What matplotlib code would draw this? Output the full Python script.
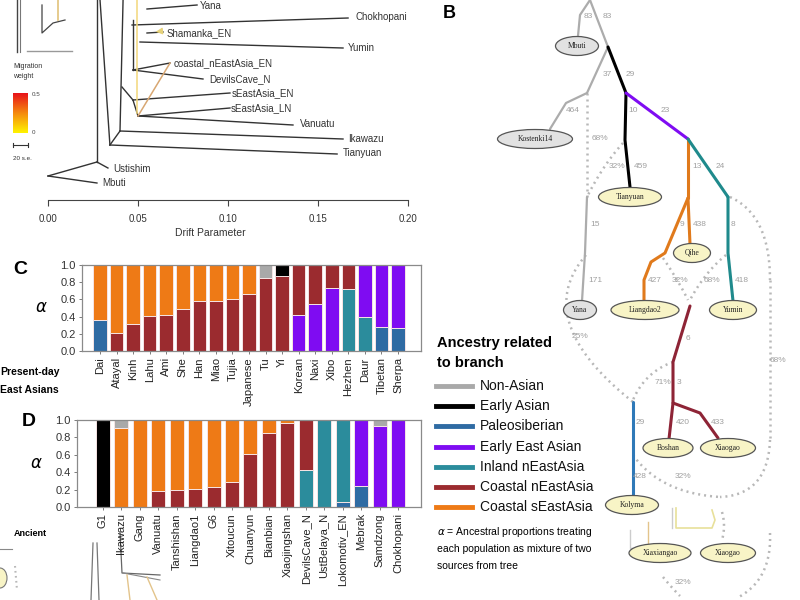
import numpy as np
import matplotlib.pyplot as plt
from matplotlib.patches import Ellipse
from matplotlib.colors import LinearSegmentedColormap

plt.rcParams['font.family'] = ['Liberation Sans', 'DejaVu Sans']

# ---------------- data ----------------
# ancestry components, stacked bottom -> top
components = ["Paleosiberian", "Inland nEastAsia", "Early East Asian",
              "Coastal nEastAsia", "Coastal sEastAsia", "Non-Asian", "Early Asian"]
comp_colors = ["#2f6ba3", "#2b8c9c", "#7f0cf2", "#9b2b2f", "#ee7a16", "#a9a9a9", "#000000"]

legend_names = ["Non-Asian", "Early Asian", "Paleosiberian", "Early East Asian",
                "Inland nEastAsia", "Coastal nEastAsia", "Coastal sEastAsia"]
legend_colors = ["#a9a9a9", "#000000", "#2f6ba3", "#7f0cf2", "#2b8c9c", "#9b2b2f", "#ee7a16"]

# panel C: present-day East Asians
c_pops = ["Dai", "Atayal", "Kinh", "Lahu", "Ami", "She", "Han", "Miao", "Tujia", "Japanese",
          "Tu", "Yi", "Korean", "Naxi", "Xibo", "Hezhen", "Daur", "Tibetan", "Sherpa"]
c_paleo = [0.36, 0, 0, 0, 0, 0, 0, 0, 0, 0, 0, 0, 0, 0, 0, 0, 0, 0.28, 0.27]
c_inland = [0, 0, 0, 0, 0, 0, 0, 0, 0, 0, 0, 0, 0, 0, 0, 0.72, 0.40, 0, 0]
c_eea = [0, 0, 0, 0, 0, 0, 0, 0, 0, 0, 0, 0, 0.42, 0.55, 0.73, 0, 0.60, 0.72, 0.73]
c_cnea = [0, 0.21, 0.31, 0.41, 0.42, 0.49, 0.58, 0.58, 0.61, 0.66, 0.85, 0.87,
          0.58, 0.45, 0.27, 0.28, 0, 0, 0]
c_csea = [0.64, 0.79, 0.69, 0.59, 0.58, 0.51, 0.42, 0.42, 0.39, 0.34, 0, 0,
          0, 0, 0, 0, 0, 0, 0]
c_nonasian = [0, 0, 0, 0, 0, 0, 0, 0, 0, 0, 0.15, 0, 0, 0, 0, 0, 0, 0, 0]
c_early = [0, 0, 0, 0, 0, 0, 0, 0, 0, 0, 0, 0.13, 0, 0, 0, 0, 0, 0, 0]

# panel D: ancient samples
d_pops = ["G1", "Ikawazu", "Gang", "Vanuatu", "Tanshishan", "Liangdao1", "G6", "Xitoucun",
          "Chuanyun", "Bianbian", "Xiaojingshan", "DevilsCave_N", "UstBelaya_N",
          "Lokomotiv_EN", "Mebrak", "Samdzong", "Chokhopani"]
d_paleo = [0, 0, 0, 0, 0, 0, 0, 0, 0, 0, 0, 0, 0, 0.06, 0.24, 0, 0]
d_inland = [0, 0, 0, 0, 0, 0, 0, 0, 0, 0, 0, 0.42, 1.0, 0.94, 0, 0, 0]
d_eea = [0, 0, 0, 0, 0, 0, 0, 0, 0, 0, 0, 0, 0, 0, 0.76, 0.93, 1.0]
d_cnea = [0, 0, 0, 0.18, 0.20, 0.21, 0.23, 0.29, 0.61, 0.85, 0.97, 0.58, 0, 0, 0, 0, 0]
d_csea = [0, 0.91, 1.0, 0.82, 0.80, 0.79, 0.77, 0.71, 0.39, 0.15, 0.03, 0, 0, 0, 0, 0, 0]
d_nonasian = [0, 0.09, 0, 0, 0, 0, 0, 0, 0, 0, 0, 0, 0, 0, 0, 0.07, 0]
d_early = [1.0, 0, 0, 0, 0, 0, 0, 0, 0, 0, 0, 0, 0, 0, 0, 0, 0]

# panel A: treemix tree, x = drift, y = row (pixels from top)
tree_x0 = [0, 0, 0.0272, 0.0272, 0.0289, 0.0344, 0.0344, 0.040, 0.040, 0.0411, 0.0472, 0.0472,
           0.050, 0.050, 0.0472, 0.0472, 0.0472, 0.0467, 0.0511, 0.055, 0.055]
tree_y0 = [176, 176, 162, 162, 0, 145, 145, 131, 131, 87, 100, 100,
           116, 116, 20, 70, 70, 25, 42, 33, 9]
tree_x1 = [0.0272, 0.0272, 0.0333, 0.0272, 0.0344, 0.1606, 0.040, 0.1639, 0.0417, 0.0472, 0.1011, 0.050,
           0.1011, 0.1361, 0.0472, 0.0678, 0.0861, 0.1667, 0.1639, 0.0639, 0.0828]
tree_y1 = [183, 162, 168, 0, 145, 154, 131, 139, 0, 100, 93, 116,
           108, 125, 70, 63, 79, 18, 48, 32, 5]
leaf_names = ["Yana", "Chokhopani", "Shamanka_EN", "Yumin", "coastal_nEastAsia_EN",
              "DevilsCave_N", "sEastAsia_EN", "sEastAsia_LN", "Vanuatu", "Ikawazu",
              "Tianyuan", "Ustishim", "Mbuti"]
leaf_x = [0.0844, 0.1706, 0.0656, 0.1667, 0.0700, 0.0894, 0.1022, 0.1017, 0.1400, 0.1667,
          0.1639, 0.0361, 0.0300]
leaf_y = [6, 17, 33, 48, 63, 79, 93, 108, 124, 139, 153, 169, 183]
mig_x0 = [0.050, 0.0494]
mig_y0 = [116, 0]
mig_x1 = [0.0678, 0.0494]
mig_y1 = [63, 113]
mig_colors = ["#d8a772", "#f2d77a"]
drift_ticks = [0.0, 0.05, 0.10, 0.15, 0.20]

# panel B: admixture graph (figure pixel coordinates)
gray, purple, orange, teal, brown, pblue = "#acacac", "#7f0cf2", "#e07a1c", "#1f8a8c", "#8e2436", "#2f79b8"
b_branches = [
    (gray, [(590, 0), (580, 15), (578, 36)]),
    (gray, [(590, 0), (608, 47)]),
    (gray, [(608, 47), (587, 93)]),
    ("black", [(608, 47), (626, 93)]),
    (gray, [(587, 93), (566, 103), (550, 129)]),
    (gray, [(587, 197), (585, 253), (582, 301)]),
    ("black", [(626, 93), (625, 140), (630, 187)]),
    (purple, [(626, 93), (688, 139)]),
    (orange, [(688, 139), (688, 198)]),
    (orange, [(688, 198), (690, 244)]),
    (orange, [(688, 198), (665, 253), (651, 262), (644, 280), (644, 301)]),
    (teal, [(688, 139), (728, 197)]),
    (teal, [(728, 197), (728, 253), (733, 301)]),
    (brown, [(690, 306), (673, 362), (673, 403), (669, 439)]),
    (brown, [(673, 403), (700, 413), (718, 438)]),
    (pblue, [(633, 402), (633, 496)]),
]
b_dotted = [
    ((587, 93), (587, 145), (587, 197)),
    ((623, 143), (603, 165), (587, 197)),
    ((586, 255), (530, 320), (633, 402)),
    ((730, 197), (770, 215), (770, 280)),
    ((770, 280), (770, 360), (770, 440)),
    ((770, 440), (768, 495), (720, 497)),
    ((633, 455), (660, 493), (720, 497)),
    ((726, 255), (705, 272), (690, 300)),
    ((663, 258), (678, 280), (688, 300)),
    ((673, 362), (645, 372), (633, 400)),
    ((722, 512), (726, 526), (722, 540)),
    ((770, 533), (772, 580), (737, 598)),
    ((663, 577), (672, 588), (680, 596)),
]
b_nodes = ["Mbuti", "Kostenki14", "Tianyuan", "Qihe", "Yana", "Liangdao2", "Yumin",
           "Boshan", "Xiaogao", "Kolyma", "Xiaxiangao", "Xiaogao"]
b_node_x = [577, 535, 630, 692, 580, 645, 733, 668, 728, 632, 660, 728]
b_node_y = [46, 139, 197, 253, 310, 310, 310, 448, 448, 505, 553, 553]
b_node_w = [43, 75, 63, 37, 33, 68, 47, 50, 55, 53, 62, 55]
b_node_fill = ["#e2e2e2", "#e2e2e2", "#f8f4c6", "#f8f4c6", "#e2e2e2", "#f8f4c6", "#f8f4c6",
               "#f8f4c6", "#f8f4c6", "#f8f4c6", "#f8f4c6", "#f8f4c6"]
b_labels = ["83", "83", "37", "29", "464", "68%", "10", "23", "32%", "459", "13", "24",
            "15", "9", "438", "8", "171", "427", "32%", "68%", "418", "25%", "6", "68%",
            "71%", "3", "29", "420", "433", "428", "32%", "32%"]
b_label_x = [588, 607, 607, 630, 573, 600, 633, 665, 617, 641, 697, 720,
             595, 682, 700, 733, 595, 655, 680, 712, 742, 580, 688, 778,
             663, 679, 640, 683, 718, 640, 683, 683]
b_label_y = [17, 17, 74, 74, 111, 139, 111, 111, 167, 167, 167, 167,
             224, 224, 224, 224, 280, 280, 280, 280, 280, 337, 338, 360,
             383, 383, 422, 422, 422, 477, 477, 582]


def bez(p0, p1, p2, n=30):
    t = np.linspace(0, 1, n)[:, None]
    p0, p1, p2 = np.array(p0), np.array(p1), np.array(p2)
    pts = (1 - t) ** 2 * p0 + 2 * (1 - t) * t * p1 + t ** 2 * p2
    return pts[:, 0], pts[:, 1]


def stacked(ax, pops, parts, width):
    x = np.arange(len(pops))
    bottom = np.zeros(len(pops))
    for vals, col in zip(parts, comp_colors):
        vals = np.array(vals, dtype=float)
        m = vals > 0
        ax.bar(x[m], vals[m], width, bottom=bottom[m], color=col,
               edgecolor="#f6e4e4", linewidth=0.7)
        bottom += vals
    ax.set_ylim(0, 1)
    ax.set_yticks([0, 0.2, 0.4, 0.6, 0.8, 1.0])
    ax.set_yticklabels(["0.0", "0.2", "0.4", "0.6", "0.8", "1.0"], fontsize=8, color="#333333")
    ax.set_xticks(x)
    ax.set_xticklabels(pops, rotation=90, fontsize=8, color="#222222")
    ax.tick_params(length=2.5, width=0.6, pad=2, color="#666666")
    for s in ax.spines.values():
        s.set_color("#8a8a8a")
        s.set_linewidth(0.9)
    ax.set_ylabel(r"$\alpha$", rotation=0, fontsize=12, labelpad=14, va="center")


fig = plt.figure(figsize=(8, 6), dpi=100)

# pixel-space overlay for diagram parts and free text
ax = fig.add_axes([0, 0, 1, 1])
ax.set_xlim(0, 800)
ax.set_ylim(600, 0)
ax.axis("off")

# ---- panel A side bits (fragment of the neighbouring panel and the migration legend)
ax.plot([17, 17], [0, 52], color="#444444", lw=1)
ax.plot([20, 20], [0, 52], color="#777777", lw=0.8)
ax.plot([27, 72], [51, 51], color="#999999", lw=1)
ax.plot([42, 42, 53, 65], [5, 33, 23, 20], color="#444444", lw=0.9)
ax.plot([58, 58], [0, 20], color="#e2c27a", lw=1.2)
ax.text(13, 66, "Migration", fontsize=5, color="#333333", va="center")
ax.text(13, 77, "weight", fontsize=5, color="#333333", va="center")
cmap = LinearSegmentedColormap.from_list("mw", ["#fff200", "#f58a0e", "#e8141a"])
ax.imshow(np.linspace(0, 1, 50)[:, None], cmap=cmap, origin="lower", aspect="auto",
          extent=[13, 28, 133, 93])
ax.text(32, 95, "0.5", fontsize=4.5, color="#444444", va="center")
ax.text(32, 132, "0", fontsize=4.5, color="#444444", va="center")
ax.plot([13, 28], [145, 145], color="#333333", lw=0.8)
ax.plot([13, 13], [143, 147], color="#333333", lw=0.8)
ax.plot([28, 28], [143, 147], color="#333333", lw=0.8)
ax.text(13, 158, "20 s.e.", fontsize=4.5, color="#333333", va="center")
ax.set_xlim(0, 800)
ax.set_ylim(600, 0)

# ---- panel B admixture graph
for p0, p1, p2 in b_dotted:
    xs, ys = bez(p0, p1, p2)
    ax.plot(xs, ys, color="#b8b8b8", lw=1.8, linestyle=(0, (0.8, 1.6)), zorder=2)
for col, pts in b_branches:
    pts = np.array(pts)
    ax.plot(pts[:, 0], pts[:, 1], color=col, lw=1.6 if col == gray else 2.2,
            solid_capstyle="round", zorder=3)
for name, x, y, w, fc in zip(b_nodes, b_node_x, b_node_y, b_node_w, b_node_fill):
    ax.add_patch(Ellipse((x, y), w, 19, facecolor=fc, edgecolor="#555555", lw=0.9, zorder=4))
    ax.text(x, y, name, fontsize=5.5, family="Liberation Serif", ha="center", va="center",
            color="#222222", zorder=5)
for s, x, y in zip(b_labels, b_label_x, b_label_y):
    ax.text(x, y, s, fontsize=6, color="#a0a0a0", ha="center", va="center", zorder=5)
ax.text(443, 13, "B", fontsize=13, fontweight="bold", va="center")

# small fragments of another figure near the bottom
ax.plot([676, 676, 712, 715, 712], [508, 528, 528, 520, 510], color="#e8e09a", lw=1.2)
ax.plot([672, 672], [508, 528], color="#cccccc", lw=1)
ax.plot([630, 630, 660], [530, 548, 548], color="#cccccc", lw=1)
ax.plot([648, 648], [522, 548], color="#e3c48b", lw=1)

# legend
ax.text(437, 343, "Ancestry related", fontsize=10.5, fontweight="bold", va="center")
ax.text(437, 363, "to branch", fontsize=10.5, fontweight="bold", va="center")
for i, (name, col) in enumerate(zip(legend_names, legend_colors)):
    y = 386 + i * 20.2
    ax.plot([436, 472], [y, y], color=col, lw=3.5)
    ax.text(480, y, name, fontsize=10, va="center", color="#111111")
ax.text(437, 532, r"$\alpha$ = Ancestral proportions treating", fontsize=7.5, va="center")
ax.text(437, 549, "each population as mixture of two", fontsize=7.5, va="center")
ax.text(437, 566, "sources from tree", fontsize=7.5, va="center")

# panel letters and side text
ax.text(13, 270, "C", fontsize=14, fontweight="bold", va="center")
ax.text(22, 421, "D", fontsize=14, fontweight="bold", va="center")
ax.text(0, 372, "Present-day", fontsize=7.5, fontweight="bold", va="center")
ax.text(0, 390, "East Asians", fontsize=7.5, fontweight="bold", va="center")
ax.text(14, 533, "Ancient", fontsize=6.5, fontweight="bold", va="center")
ax.plot([0, 12], [549, 549], color="#888888", lw=0.8)
ax.plot([93, 91], [543, 600], color="#777777", lw=0.9)
ax.plot([97, 99], [543, 600], color="#777777", lw=0.9)
ax.plot([120, 122, 160], [532, 573, 575], color="#666666", lw=0.9)
ax.plot([123, 160], [573, 580], color="#888888", lw=0.8)
ax.plot([127, 130], [575, 600], color="#e3c48b", lw=1)
ax.plot([147, 157], [577, 600], color="#e3c48b", lw=1)
ax.add_patch(Ellipse((0, 578), 14, 20, facecolor="#f8f4c6", edgecolor="#777777", lw=0.8))
ax.plot([15, 17], [566, 590], color="#b8b8b8", lw=1.5, linestyle=(0, (0.8, 1.6)))

# ---- panel A tree
axA = fig.add_axes([0, 400 / 600, 420 / 800, 200 / 600])
axA.set_facecolor("none")
axA.set_xlim(-48 / 1800, 372 / 1800)
axA.set_ylim(200, 0)
for x0, y0, x1, y1 in zip(tree_x0, tree_y0, tree_x1, tree_y1):
    axA.plot([x0, x1], [y0, y1], color="#333333", lw=1.0)
for x0, y0, x1, y1, c in zip(mig_x0, mig_y0, mig_x1, mig_y1, mig_colors):
    axA.plot([x0, x1], [y0, y1], color=c, lw=1.1)
axA.annotate("", xy=(0.0583, 32), xytext=(0.0639, 31),
             arrowprops=dict(arrowstyle="-|>", color="#e6d27a", lw=0.8))
for name, x, y in zip(leaf_names, leaf_x, leaf_y):
    axA.text(x, y, name, fontsize=7, color="#333333", va="center")
for s in ["top", "right", "left"]:
    axA.spines[s].set_visible(False)
axA.spines["bottom"].set_bounds(0, 0.2)
axA.spines["bottom"].set_color("#444444")
axA.spines["bottom"].set_linewidth(0.8)
axA.set_yticks([])
axA.set_xticks(drift_ticks)
axA.set_xticklabels([f"{t:.2f}" for t in drift_ticks], fontsize=7, color="#333333")
axA.tick_params(axis="x", length=4, width=0.8, pad=6, color="#444444")
axA.set_xlabel("Drift Parameter", fontsize=7.5, color="#333333", labelpad=3)

# ---- panel C
axC = fig.add_axes([82 / 800, (600 - 351) / 600, 339 / 800, 86 / 600])
stacked(axC, c_pops, [c_paleo, c_inland, c_eea, c_cnea, c_csea, c_nonasian, c_early], 0.82)
axC.set_xlim(-1.09, 19.39)

# ---- panel D
axD = fig.add_axes([77 / 800, (600 - 507) / 600, 344 / 800, 87 / 600])
stacked(axD, d_pops, [d_paleo, d_inland, d_eea, d_cnea, d_csea, d_nonasian, d_early], 0.76)
axD.set_xlim(-1.41, 17.25)

fig.savefig("out.png", dpi=100)
